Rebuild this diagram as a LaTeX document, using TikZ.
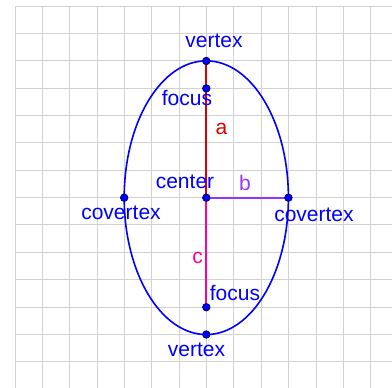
\documentclass[tikz,border=0pt]{standalone}
\usepackage{fontspec}
\setmainfont{Liberation Sans}
\begin{document}
\begin{tikzpicture}[x=1pt,y=-1pt,
  gridline/.style={draw={rgb,255:red,210;green,210;blue,210},line width=1pt},
  dot/.style={circle,fill={rgb,255:red,0;green,0;blue,255},draw={rgb,255:red,0;green,0;blue,100},line width=0.8pt,inner sep=0pt,minimum size=7.5pt},
  lbl/.style={anchor=base,inner sep=0pt,font=\fontsize{21}{25}\selectfont},
  bluet/.style={lbl,text={rgb,255:red,0;green,0;blue,255}},
  curve/.style={draw={rgb,255:red,0;green,0;blue,255},line width=1.6pt},
  seg/.style={line width=2pt}]
\definecolor{ared}{RGB}{220,0,0}
\definecolor{bpurple}{RGB}{153,51,255}
\definecolor{cmag}{RGB}{255,0,153}
\useasboundingbox (0,0) rectangle (392,388);
\fill[white] (0,0) rectangle (392,388);
% grid
\foreach \k in {0,...,13}{
  \draw[gridline] ({15+\k*27.37},6) -- ({15+\k*27.37},388);
  \draw[gridline] (15,{6+\k*27.37}) -- (392,{6+\k*27.37});
}
% ellipse
\coordinate (C0) at (206.3,197.7);
\draw[curve] (C0) ellipse [x radius=82.1, y radius=136.85];
% segments
\coordinate (V1c) at (206.3,61);
\coordinate (F2c) at (206.3,307.2);
\coordinate (Rc) at (288.4,197.7);
\draw[seg,ared] (V1c) -- (C0);
\draw[seg,cmag] (C0) -- (F2c);
\draw[seg,bpurple] (C0) -- (Rc);
% points
\node[dot] (V1) at (206.3,61) {};
\node[dot] (F1) at (206.3,88.4) {};
\node[dot] (C) at (206.3,197.7) {};
\node[dot] (L) at (124.2,197.7) {};
\node[dot] (R) at (288.4,197.7) {};
\node[dot] (F2) at (206.3,307.2) {};
\node[dot] (V2) at (206.3,334.5) {};
% labels
\node[bluet] (tv1) at (214,48) {vertex};
\node[bluet] (tf1) at (187,106) {focus};
\node[lbl,text=ared] (ta) at (221.5,135) {a};
\node[bluet] (tc) at (185,189) {center};
\node[lbl,text=bpurple] (tb) at (245,190.5) {b};
\node[bluet] (tl) at (121,219) {covertex};
\node[bluet] (tr) at (314,221.5) {covertex};
\node[lbl,text=cmag] (tcc) at (197.5,263) {c};
\node[bluet] (tf2) at (235,300) {focus};
\node[bluet] (tv2) at (196.5,356) {vertex};
\end{tikzpicture}
\end{document}
